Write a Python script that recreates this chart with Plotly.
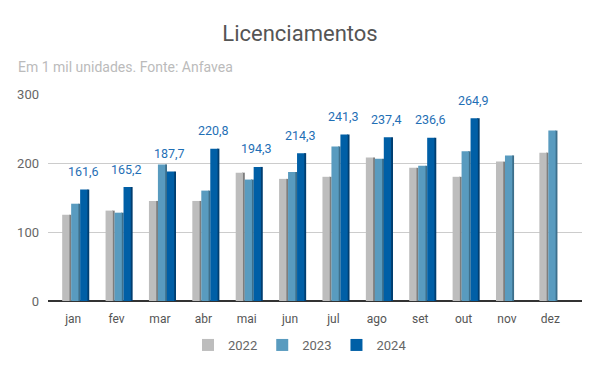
import plotly.graph_objects as go

months = ["jan", "fev", "mar", "abr", "mai", "jun", "jul", "ago", "set", "out", "nov", "dez"]
v2022 = [125, 131, 145, 145, 186, 177, 180, 208, 193, 180, 202, 215]
v2023 = [141, 128, 198, 160, 176, 187, 224, 206, 196, 217, 211, 247]
v2024 = [161.6, 165.2, 187.7, 220.8, 194.3, 214.3, 241.3, 237.4, 236.6, 264.9, None, None]
labels2024 = ["161,6", "165,2", "187,7", "220,8", "194,3", "214,3", "241,3", "237,4", "236,6", "264,9", "", ""]
series_names = ["2022", "2023", "2024"]

front_colors = ["#bdbdbd", "#599bbf", "#005fa6"]
side_colors = ["#7d7d7d", "#3d6f8b", "#003e70"]

fig = go.Figure()
series = [v2022, v2023, v2024]
front_w = 0.168
side_w = 0.042
offsets = [-0.253, -0.046, 0.161]

for i, (name, vals) in enumerate(zip(series_names, series)):
    # side face
    fig.add_trace(go.Bar(
        x=months, y=vals, offset=offsets[i] + front_w, width=side_w,
        marker=dict(color=side_colors[i], line=dict(width=0)),
        showlegend=False, hoverinfo="skip"))
    # front face
    fig.add_trace(go.Bar(
        x=months, y=vals, offset=offsets[i], width=front_w, name=name,
        marker=dict(color=front_colors[i], line=dict(width=0)),
        showlegend=True))

for m, v, t in zip(months, v2024, labels2024):
    if v is None:
        continue
    fig.add_annotation(x=m, y=v, text=t, showarrow=False, xshift=10, yshift=18,
                       yanchor="middle", font=dict(size=12.5, color="#1f6fb5", family="Roboto"))

fig.update_layout(
    width=600, height=371,
    barmode="overlay",
    paper_bgcolor="white", plot_bgcolor="white",
    font=dict(family="Roboto", color="#666"),
    title=dict(text="Licenciamentos", x=0.5, xanchor="center", xref="container",
               y=1 - 33 / 371, yref="container", yanchor="middle",
               font=dict(size=22, color="#555", family="Roboto")),
    margin=dict(l=48, r=18, t=94, b=70, autoexpand=False),
    legend=dict(orientation="h", x=0.5, xanchor="center", xref="container",
                y=1 - 345 / 371, yref="container", yanchor="middle",
                font=dict(size=13, color="#666"), traceorder="normal",
                itemwidth=30),
    xaxis=dict(range=[-0.58, 11.73], showgrid=False, ticks="", tickfont=dict(size=12, color="#555"),
               showline=False, fixedrange=True, automargin=False, ticklabelstandoff=9),
    yaxis=dict(range=[0, 300], tickvals=[0, 100, 200, 300], gridcolor="#cccccc", gridwidth=1,
               zeroline=True, zerolinecolor="#333", zerolinewidth=1.5, automargin=False,
               tickfont=dict(size=13, color="#666"), ticklabelstandoff=8),
)
fig.add_annotation(text="Em 1 mil unidades. Fonte: Anfavea", xref="paper", yref="paper",
                   x=-32 / 534, xanchor="left", y=1 + (94 - 67) / 207, yanchor="middle",
                   showarrow=False, font=dict(size=14, color="#bbbbbb", family="Roboto"))

fig.write_html("out.html", config={"displayModeBar": False},
               post_script="document.body.style.margin='0';")
